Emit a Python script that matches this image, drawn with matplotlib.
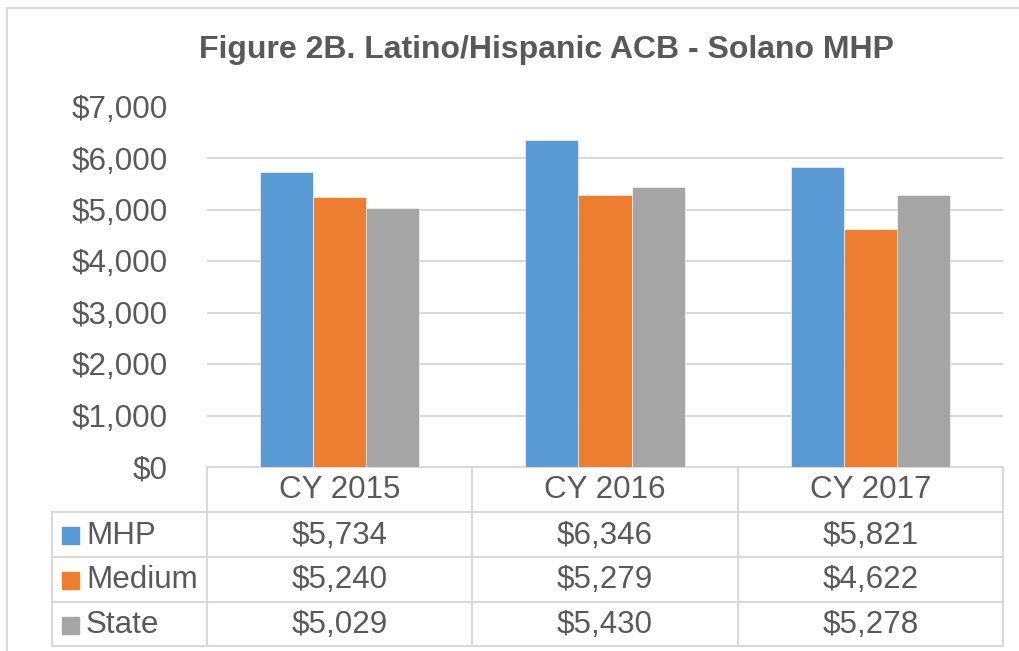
import matplotlib
matplotlib.use("Agg")
import matplotlib.pyplot as plt
from matplotlib.patches import Rectangle

plt.rcParams['font.family'] = ['Liberation Sans', 'DejaVu Sans']

# chart data
years = ['CY 2015', 'CY 2016', 'CY 2017']
series = ['MHP', 'Medium', 'State']
mhp = [5734, 6346, 5821]
medium = [5240, 5279, 4622]
state = [5029, 5430, 5278]
colors = ['#5B9BD5', '#ED7D31', '#A5A5A5']
title = 'Figure 2B. Latino/Hispanic ACB - Solano MHP'

TXT = '#595959'
GRID = '#D9D9D9'
W, H = 1019, 651

fig = plt.figure(figsize=(W / 100, H / 100), dpi=100)

# overlay axes in pixel coordinates for border, title and data table
over = fig.add_axes([0, 0, 1, 1])
over.set_xlim(0, W)
over.set_ylim(H, 0)
over.axis('off')

# plot area
x0, x1 = 207, 1003
ytop, ybot = 106.5, 467
ax = fig.add_axes([x0 / W, 1 - ybot / H, (x1 - x0) / W, (ybot - ytop) / H])
ax.set_xlim(-0.5, len(years) - 0.5)
ax.set_ylim(0, 7000)
for s in ax.spines.values():
    s.set_visible(False)
ax.set_yticks(range(0, 7001, 1000))
ax.yaxis.grid(True, color=GRID, linewidth=1.5)
ax.set_axisbelow(True)
ax.set_xticks([])
ax.tick_params(axis='y', length=0, pad=28.5, labelsize=22.6, labelcolor=TXT)
ax.set_yticklabels(['${:,}'.format(v) for v in range(0, 7001, 1000)])

data = [mhp, medium, state]
bw = 0.2
for i, (vals, c) in enumerate(zip(data, colors)):
    xs = [k + (i - 1) * bw for k in range(len(years))]
    ax.bar(xs, vals, width=bw, color=c, edgecolor='white', linewidth=0.4, zorder=3)

# outer chart border
over.plot([7, 7, W + 5], [H + 5, 7.5, 7.5], color=GRID, lw=1.5)

over.text(546.5, 50, title, ha='center', va='center',
          fontsize=23, fontweight='bold', color=TXT)

# data table
lx = 52
rows_y = [467, 512, 557, 602, 646]
colw = (x1 - x0) / len(years)
cols_x = [x0 + k * colw for k in range(len(years) + 1)]
tl = dict(color=GRID, lw=1.5, solid_capstyle='projecting')
over.plot([x0, x1], [rows_y[0], rows_y[0]], **tl)
for y in rows_y[1:]:
    over.plot([lx, x1], [y, y], **tl)
for x in cols_x:
    over.plot([x, x], [rows_y[0], rows_y[-1]], **tl)
over.plot([lx, lx], [rows_y[1], rows_y[-1]], **tl)

fs = 22.6
for k, yr in enumerate(years):
    over.text(cols_x[k] + colw / 2, (rows_y[0] + rows_y[1]) / 2 + 1, yr,
              ha='center', va='center', fontsize=fs, color=TXT)

for r, (name, vals, c) in enumerate(zip(series, data, colors)):
    yc = (rows_y[r + 1] + rows_y[r + 2]) / 2 + 1
    over.add_patch(Rectangle((62, yc - 8.5), 17, 17, color=c))
    over.text(86, yc, name, ha='left', va='center', fontsize=fs, color=TXT)
    for k, v in enumerate(vals):
        over.text(cols_x[k] + colw / 2, yc, '${:,}'.format(v),
                  ha='center', va='center', fontsize=fs, color=TXT)

fig.savefig('out.png', dpi=100)
